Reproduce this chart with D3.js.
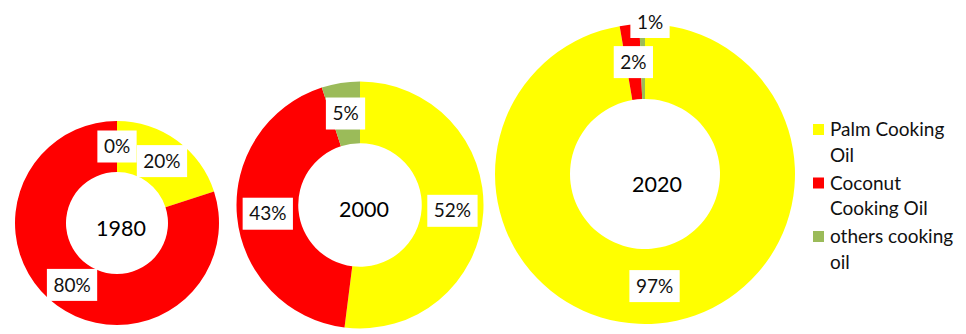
<!DOCTYPE html>
<style>
body {
  margin: 0;
  background: #fff;
}
svg {
  display: block;
  font-family: Lato, "Open Sans", sans-serif;
}
.pct {
  font-size: 19px;
  fill: #111;
}
.year {
  font-size: 21.5px;
  fill: #000;
}
.legend text {
  font-size: 19px;
  fill: #111;
}
</style>
<svg width="966" height="334"></svg>
<script src="https://d3js.org/d3.v7.min.js"></script>
<script>

// data
var categories = ["Palm Cooking Oil", "Coconut Cooking Oil", "others cooking oil"],
    years = ["1980", "2000", "2020"],
    share1980 = [20, 80, 0],
    share2000 = [52, 43, 5],
    share2020 = [97.3, 2.1, 0.6],
    colors = ["#ffff00", "#ff0000", "#9bbb59"];

var shares = [share1980, share2000, share2020];

// where each doughnut sits and how big it is
var layout = [
  { cx: 117, cy: 223, outer: 102, yearDx: 4, yearDy: 5 },
  { cx: 360, cy: 205, outer: 123.5, yearDx: 4, yearDy: 4 },
  { cx: 645, cy: 174, outer: 150, yearDx: 12, yearDy: 10 }
];

// the 1% label of 2020 was dragged up out of the ring
var labelMoves = { "2-2": { x: 650, y: 22 } };

var svg = d3.select("svg"),
    color = d3.scaleOrdinal().domain(categories).range(colors),
    pie = d3.pie().sort(null).value(d => d.value),
    fmt = d3.format(".0f");

years.forEach((year, i) => {
  var spot = layout[i],
      arc = d3.arc().innerRadius(spot.outer / 2).outerRadius(spot.outer),
      rows = categories.map((c, k) => ({ name: c, value: shares[i][k] })),
      slices = pie(rows);

  var g = svg.append("g")
    .attr("transform", "translate(" + spot.cx + "," + spot.cy + ")");

  g.selectAll("path.slice")
    .data(slices)
    .join("path")
    .attr("class", "slice")
    .attr("d", arc)
    .attr("fill", d => color(d.data.name));

  g.append("text")
    .attr("class", "year")
    .attr("x", spot.yearDx)
    .attr("y", spot.yearDy)
    .attr("dy", "0.35em")
    .attr("text-anchor", "middle")
    .text(year);

  slices.forEach((d, k) => {
    var pos = arc.centroid(d),
        moved = labelMoves[i + "-" + k];
    if (moved) pos = [moved.x - spot.cx, moved.y - spot.cy];

    var lab = g.append("g").attr("transform", "translate(" + pos[0] + "," + pos[1] + ")");
    var box = lab.append("rect").attr("fill", "#fff");
    var t = lab.append("text")
      .attr("class", "pct")
      .attr("text-anchor", "middle")
      .attr("dy", "0.35em")
      .text(fmt(d.data.value) + "%");
    var w = t.node().getComputedTextLength() + 13;
    box.attr("x", -w / 2).attr("y", -16).attr("width", w).attr("height", 32);
  });
});

// legend
var legend = svg.append("g").attr("class", "legend");

categories.forEach((c, i) => {
  var base = 136 + i * 53.5;
  legend.append("rect")
    .attr("x", 813)
    .attr("y", base - 12)
    .attr("width", 11)
    .attr("height", 11)
    .attr("fill", color(c));

  var t = legend.append("text").attr("x", 830).attr("y", base);
  wrap(t, c, 132, 25.5);
});

function wrap(textSel, str, maxWidth, lineHeight) {
  var words = str.split(" "),
      line = [],
      n = 0,
      span = textSel.append("tspan").attr("x", 830).attr("dy", 0);
  words.forEach(word => {
    line.push(word);
    span.text(line.join(" "));
    if (span.node().getComputedTextLength() > maxWidth && line.length > 1) {
      line.pop();
      span.text(line.join(" "));
      line = [word];
      n++;
      span = textSel.append("tspan").attr("x", 830).attr("dy", lineHeight).text(word);
    }
  });
}
</script>
